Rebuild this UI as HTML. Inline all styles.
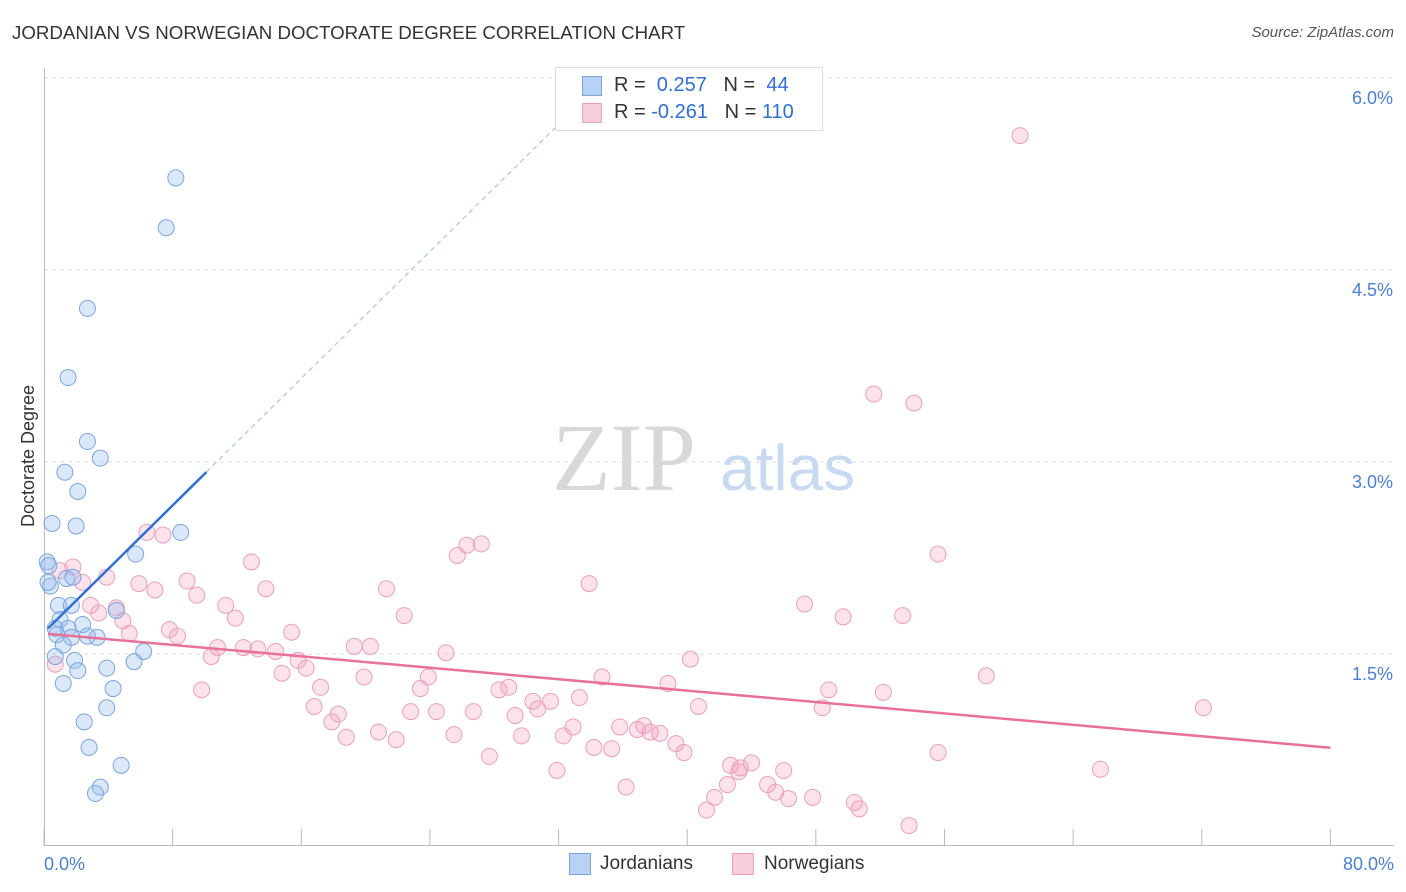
<!DOCTYPE html>
<html><head><meta charset="utf-8"><style>
body{margin:0;background:#fff;font-family:"Liberation Sans",sans-serif;}
#wrap{position:relative;width:1406px;height:892px;overflow:hidden;}
.t{position:absolute;white-space:nowrap;}
</style></head><body>
<div id="wrap">
<div class="t" style="left:12px;top:22px;font-size:18.7px;color:#333;">JORDANIAN VS NORWEGIAN DOCTORATE DEGREE CORRELATION CHART</div>
<div class="t" style="right:12px;top:24px;font-size:15px;color:#555;font-style:italic;">Source: ZipAtlas.com</div>
<svg id="svg" width="1406" height="892" style="position:absolute;left:0;top:0"></svg>
</div>
<script>
const yTicks=[1.5,3.0,4.5,6.0];
const xTickLabels=["0.0%","80.0%"];
const jordX=[8.2,7.6,2.7,1.5,2.7,3.5,1.3,2.1,0.5,2.0,8.5,5.7,0.2,0.3,1.4,1.8,0.4,0.9,1.7,4.5,1.0,2.4,0.7,1.5,0.8,1.7,2.7,3.3,1.2,6.2,0.7,1.9,5.6,3.9,2.1,1.2,4.3,3.9,2.5,2.8,4.8,3.5,3.2,0.25];
const jordY=[5.22,4.83,4.2,3.66,3.16,3.03,2.92,2.77,2.52,2.5,2.45,2.28,2.22,2.19,2.09,2.1,2.03,1.88,1.88,1.84,1.77,1.73,1.7,1.7,1.65,1.63,1.64,1.63,1.57,1.52,1.48,1.45,1.44,1.39,1.37,1.27,1.23,1.08,0.97,0.77,0.63,0.46,0.41,2.06];
const norX=[60.7,51.6,54.1,55.6,26.3,27.2,25.7,33.9,12.9,6.4,7.4,21.3,3.9,5.9,6.9,8.9,9.5,13.8,1.8,1.0,2.4,2.9,3.4,4.5,4.9,5.3,7.8,8.3,11.3,11.9,22.4,47.3,49.7,53.4,15.4,10.4,10.8,12.4,13.3,14.4,15.8,16.3,19.3,20.3,25.0,14.8,19.9,23.9,23.4,34.7,40.2,38.8,17.2,28.3,28.9,33.3,30.4,31.5,58.6,48.8,52.2,9.8,16.8,18.3,22.8,24.4,26.7,29.3,30.7,40.7,48.4,72.1,17.9,18.8,20.8,21.9,25.5,29.7,32.9,32.3,35.8,36.9,37.3,37.7,38.3,34.2,35.3,39.3,39.8,55.6,27.7,31.9,42.7,43.3,44.0,46.0,43.2,42.5,45.0,45.5,46.3,41.7,41.2,50.4,50.7,53.8,36.2,47.8,65.7,0.7];
const norY=[5.55,3.53,3.46,2.28,2.35,2.36,2.27,2.05,2.22,2.45,2.43,2.01,2.1,2.05,2.0,2.07,1.96,2.01,2.18,2.15,2.06,1.88,1.82,1.86,1.76,1.66,1.69,1.64,1.88,1.78,1.8,1.89,1.79,1.8,1.67,1.48,1.55,1.55,1.54,1.52,1.45,1.39,1.56,1.56,1.51,1.35,1.32,1.32,1.23,1.32,1.46,1.27,1.24,1.22,1.24,1.16,1.13,1.13,1.33,1.22,1.2,1.22,1.09,1.03,1.05,1.05,1.05,1.02,1.07,1.09,1.08,1.08,0.97,0.85,0.89,0.83,0.87,0.86,0.93,0.86,0.93,0.91,0.94,0.89,0.88,0.77,0.76,0.8,0.73,0.73,0.7,0.59,0.63,0.61,0.65,0.59,0.58,0.48,0.48,0.42,0.37,0.38,0.28,0.34,0.29,0.16,0.46,0.38,0.6,1.42];
const blueFit=[0.25,1.70,0.124];
const pinkFit=[0,1.66,-0.01115];
const NS="http://www.w3.org/2000/svg",svg=document.getElementById('svg');
const X=v=>44+v*16.08, Y=v=>846-v*128;
function mk(t,a){const e=document.createElementNS(NS,t);for(const k in a)e.setAttribute(k,a[k]);svg.appendChild(e);return e;}
yTicks.forEach(v=>{const l=mk('line',{x1:44,x2:1394,y1:Y(v),y2:Y(v),stroke:'#ddd','stroke-dasharray':'4,4'});


const t=mk('text',{x:1393,y:Y(v)+26,'text-anchor':'end','font-size':18,fill:'#4a7fd4','font-family':'Liberation Sans'});t.textContent=v.toFixed(1)+'%';

});
const ax=mk('line',{x1:44,x2:1394,y1:845.5,y2:845.5,stroke:'#bbb'});


const ay=mk('line',{x1:44.5,x2:44.5,y1:68,y2:846,stroke:'#bbb'});


for(let i=0;i<=10;i++){const k=mk('line',{x1:X(i*8),x2:X(i*8),y1:829,y2:846,stroke:'#bbb'});

}
[[0,'start',44],[80,'end',1394]].forEach((a,i)=>{const t=mk('text',{x:a[2],y:870,'text-anchor':a[1],'font-size':18,fill:'#4a7fd4','font-family':'Liberation Sans'});t.textContent=xTickLabels[i];

});
const yt=mk('text',{x:34,y:456,transform:'rotate(-90 34 456)','text-anchor':'middle','font-size':18,fill:'#333','font-family':'Liberation Sans'});yt.textContent='Doctorate Degree';


const w1=mk('text',{x:552,y:490,'font-size':96,fill:'#d8d8d8','font-family':'Liberation Serif'});w1.textContent='ZIP';


const w2=mk('text',{x:720,y:490,'font-size':64,fill:'#c8daf2','font-family':'Liberation Sans'});w2.textContent='atlas';


norX.forEach((x,i)=>{const c=mk('circle',{cx:X(x),cy:Y(norY[i]),r:8,fill:'rgba(244,160,190,0.3)',stroke:'#eaa0bb','stroke-width':1});

});
jordX.forEach((x,i)=>{const c=mk('circle',{cx:X(x),cy:Y(jordY[i]),r:8,fill:'rgba(150,190,240,0.35)',stroke:'#7aa6e0','stroke-width':1});

});
const fb=x=>blueFit[1]+(x-blueFit[0])*blueFit[2];
const bl=mk('line',{x1:X(0.25),y1:Y(fb(0.25)),x2:X(10.1),y2:Y(fb(10.1)),stroke:'#2f6fd6','stroke-width':2.5});


const bd=mk('line',{x1:X(10.1),y1:Y(fb(10.1)),x2:X(35),y2:Y(fb(35)),stroke:'#a9c4ec','stroke-width':1.2,'stroke-dasharray':'5,4'});


const fp=x=>pinkFit[1]+x*pinkFit[2];
const pl=mk('line',{x1:X(0.25),y1:Y(fp(0.25)),x2:X(80),y2:Y(fp(80)),stroke:'#e8709a','stroke-width':2.5});


</script>
<div class="t" style="left:555px;top:67px;width:266px;height:62px;background:#fff;border:1px solid #ddd;">
<div class="t" style="left:26px;top:8px;width:18px;height:18px;background:#b8d2f4;border:1px solid #7aa6e0;"></div>
<div class="t" style="left:58px;top:6px;font-size:20px;color:#333;">R = &nbsp;<span style="color:#2f6fd6">0.257</span> &nbsp;&nbsp;N = &nbsp;<span style="color:#2f6fd6">44</span></div>
<div class="t" style="left:26px;top:35px;width:18px;height:18px;background:#f9cfdd;border:1px solid #eaa0bb;"></div>
<div class="t" style="left:58px;top:33px;font-size:20px;color:#333;">R = <span style="color:#2f6fd6">-0.261</span> &nbsp;&nbsp;N = <span style="color:#2f6fd6">110</span></div>
</div>
<div class="t" style="left:569px;top:853px;width:20px;height:20px;background:#b8d2f4;border:1px solid #7aa6e0;"></div>
<div class="t" style="left:600px;top:853px;font-size:19px;color:#333;">Jordanians</div>
<div class="t" style="left:732px;top:853px;width:20px;height:20px;background:#f9cfdd;border:1px solid #eaa0bb;"></div>
<div class="t" style="left:764px;top:853px;font-size:19px;color:#333;">Norwegians</div>
</body></html>
